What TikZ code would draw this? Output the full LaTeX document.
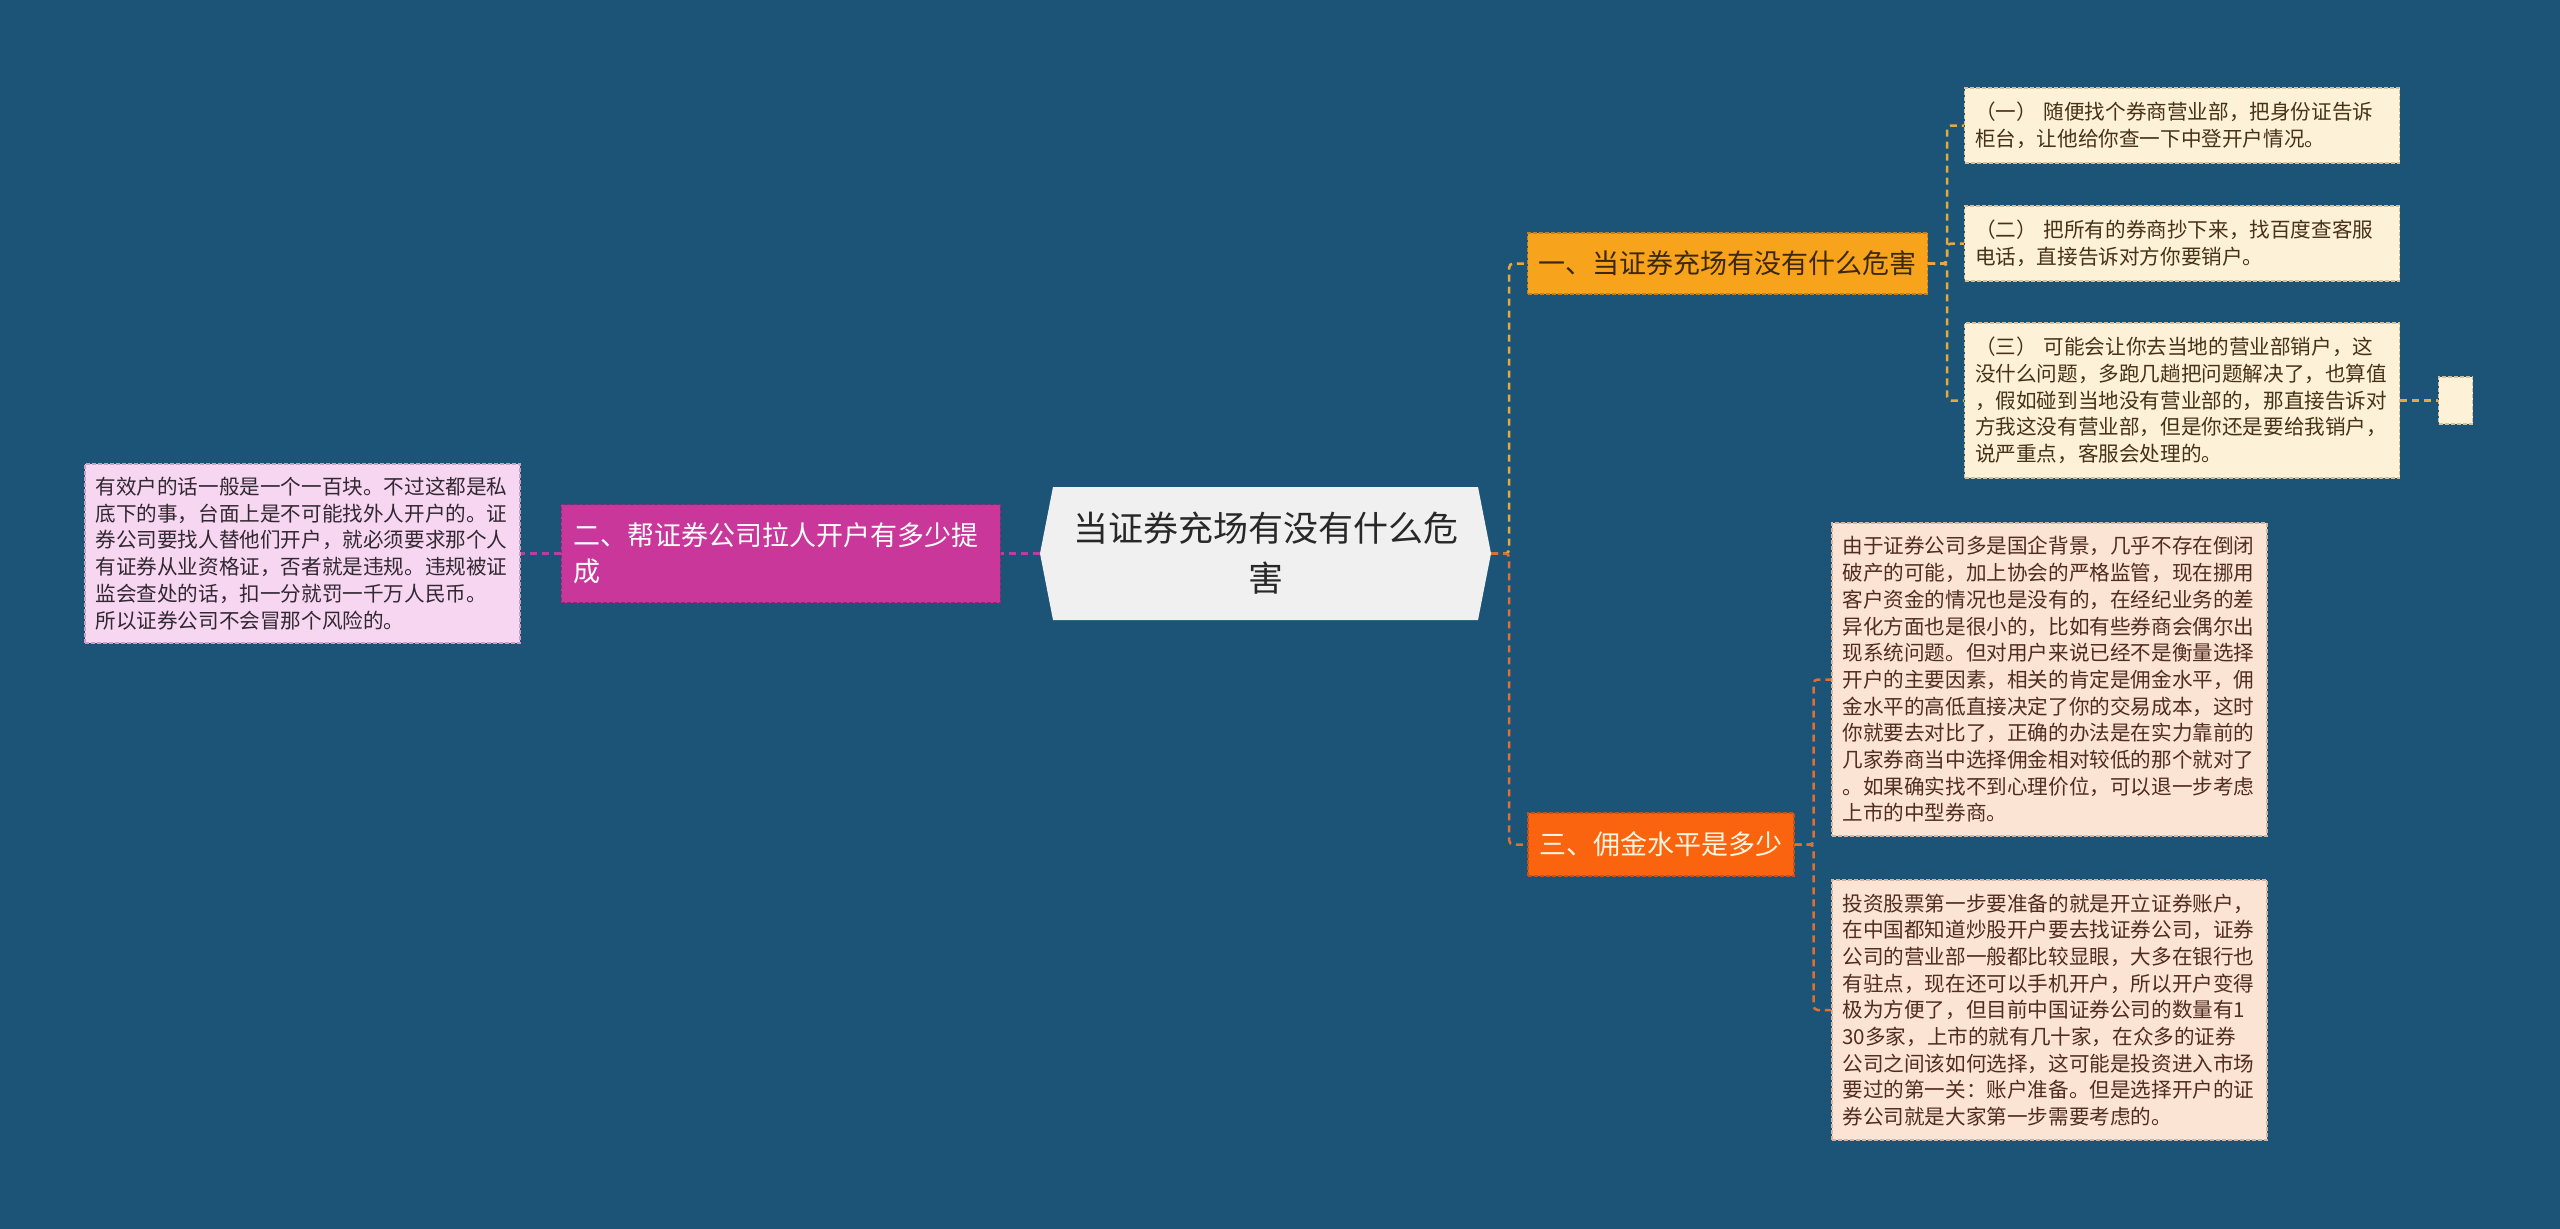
\documentclass[tikz,border=0pt]{standalone}
\usepackage{fontspec}
\setmainfont{Noto Sans CJK SC}
\usepackage{xcolor}
\usepackage{tikz}
\usetikzlibrary{positioning}

\definecolor{bgblue}{RGB}{27,84,118}
\definecolor{hubfill}{RGB}{240,240,240}
\definecolor{hubtext}{RGB}{40,40,40}
\definecolor{goldfill}{RGB}{247,163,28}
\definecolor{goldedge}{RGB}{196,128,30}
\definecolor{goldtext}{RGB}{60,40,10}
\definecolor{rosefill}{RGB}{201,55,155}
\definecolor{roseedge}{RGB}{150,40,120}
\definecolor{emberfill}{RGB}{250,100,15}
\definecolor{emberedge}{RGB}{200,80,20}
\definecolor{embertext}{RGB}{255,245,225}
\definecolor{creamfill}{RGB}{253,241,216}
\definecolor{creamedge}{RGB}{212,192,156}
\definecolor{creamtext}{RGB}{70,50,25}
\definecolor{pinkfill}{RGB}{246,214,240}
\definecolor{pinkedge}{RGB}{200,160,195}
\definecolor{pinktext}{RGB}{50,40,50}
\definecolor{peachfill}{RGB}{252,228,212}
\definecolor{peachedge}{RGB}{215,180,160}
\definecolor{peachtext}{RGB}{80,45,30}
\definecolor{linkgold}{RGB}{232,168,60}
\definecolor{linkrose}{RGB}{190,60,160}
\definecolor{linkember}{RGB}{225,110,50}

\begin{document}
\begin{tikzpicture}[
    x=1pt, y=1pt,
    hub/.style={rectangle, fill=bgblue, minimum width=451pt, minimum height=133pt, align=center,
        text=hubtext, font=\fontsize{35pt}{50pt}\selectfont,
        path picture={\fill[hubfill] (path picture bounding box.west)
            -- ([xshift=13pt]path picture bounding box.north west)
            -- ([xshift=-13pt]path picture bounding box.north east)
            -- (path picture bounding box.east)
            -- ([xshift=-13pt]path picture bounding box.south east)
            -- ([xshift=13pt]path picture bounding box.south west) -- cycle;}},
    topic/.style={rectangle, draw, dash pattern=on 4pt off 2pt, line width=1.2pt, align=left,
        inner xsep=11pt, font=\fontsize{27pt}{36pt}\selectfont},
    leaf/.style={rectangle, draw, dash pattern=on 4pt off 2pt, line width=1.2pt, align=left,
        text width=414pt, inner xsep=10.5pt, font=\fontsize{20.6pt}{26.7pt}\selectfont},
    leafgold/.style={leaf, fill=creamfill, draw=creamedge, text=creamtext},
    leafpink/.style={leaf, fill=pinkfill, draw=pinkedge, text=pinktext},
    leafpeach/.style={leaf, fill=peachfill, draw=peachedge, text=peachtext},
    link/.style={line width=2.5pt, dash pattern=on 7pt off 5pt, rounded corners=4pt}
]
% Page
\fill[bgblue] (0,0) rectangle (2560,-1229);
\useasboundingbox (0,0) rectangle (2560,-1229);

% Hub
\node[hub] (hub) at (1265.5,-553.5) {当证券充场有没有什么危\\害};

% Branch one
\node[topic, fill=goldfill, draw=goldedge, text=goldtext, minimum width=399pt, minimum height=61pt] (b1) at (1727.5,-263.5) {一、当证券充场有没有什么危害};
\node[leafgold, minimum height=75pt] (l1a) at (2182,-125.5) {（一） 随便找个券商营业部，把身份证告诉\\柜台，让他给你查一下中登开户情况。};
\node[leafgold, minimum height=75pt] (l1b) at (2182,-243.5) {（二） 把所有的券商抄下来，找百度查客服\\电话，直接告诉对方你要销户。};
\node[leafgold, minimum height=155pt] (l1c) at (2182,-400.5) {（三） 可能会让你去当地的营业部销户，这\\没什么问题，多跑几趟把问题解决了，也算值\\，假如碰到当地没有营业部的，那直接告诉对\\方我这没有营业部，但是你还是要给我销户，\\说严重点，客服会处理的。};
\node[rectangle, draw=creamedge, fill=creamfill, dash pattern=on 4pt off 2pt, line width=1.2pt, minimum width=34pt, minimum height=47pt, right=38pt of l1c] (l1x) {};

% Branch two
\node[topic, fill=rosefill, draw=roseedge, text=white, text width=415pt, inner xsep=12pt, minimum height=98pt, left=39pt of hub] (b2) {二、帮证券公司拉人开户有多少提\\成};
\node[leafpink, minimum height=179pt, left=40pt of b2] (l2) {有效户的话一般是一个一百块。不过这都是私\\底下的事，台面上是不可能找外人开户的。证\\券公司要找人替他们开户，就必须要求那个人\\有证券从业资格证，否者就是违规。违规被证\\监会查处的话，扣一分就罚一千万人民币。\\所以证券公司不会冒那个风险的。};

% Branch three
\node[topic, fill=emberfill, draw=emberedge, text=embertext, minimum width=266pt, minimum height=63pt] (b3) at (1661,-844.5) {三、佣金水平是多少};
\node[leafpeach, minimum height=313pt] (l3a) at (2049.5,-679.5) {由于证券公司多是国企背景，几乎不存在倒闭\\破产的可能，加上协会的严格监管，现在挪用\\客户资金的情况也是没有的，在经纪业务的差\\异化方面也是很小的，比如有些券商会偶尔出\\现系统问题。但对用户来说已经不是衡量选择\\开户的主要因素，相关的肯定是佣金水平，佣\\金水平的高低直接决定了你的交易成本，这时\\你就要去对比了，正确的办法是在实力靠前的\\几家券商当中选择佣金相对较低的那个就对了\\。如果确实找不到心理价位，可以退一步考虑\\上市的中型券商。};
\node[leafpeach, minimum height=260pt] (l3b) at (2049.5,-1010) {投资股票第一步要准备的就是开立证券账户，\\在中国都知道炒股开户要去找证券公司，证券\\公司的营业部一般都比较显眼，大多在银行也\\有驻点，现在还可以手机开户，所以开户变得\\极为方便了，但目前中国证券公司的数量有1\\30多家，上市的就有几十家，在众多的证券\\公司之间该如何选择，这可能是投资进入市场\\要过的第一关：账户准备。但是选择开户的证\\券公司就是大家第一步需要考虑的。};

% Links
\draw[link, linkgold] (hub.east) -- ++(18,0) |- (b1.west);
\draw[link, linkember] (hub.east) -- ++(18,0) |- (b3.west);
\draw[link, linkrose] (hub.west) -- (b2.east);
\draw[link, linkrose] (b2.west) -- (l2.east);
\foreach \n in {l1a,l1b,l1c}
    \draw[link, linkgold] (b1.east) -- ++(19,0) |- (\n.west);
\draw[link, linkgold] (l1c.east) -- (l1x.west);
\foreach \n in {l3a,l3b}
    \draw[link, linkember] (b3.east) -- ++(19,0) |- (\n.west);
\end{tikzpicture}
\end{document}
